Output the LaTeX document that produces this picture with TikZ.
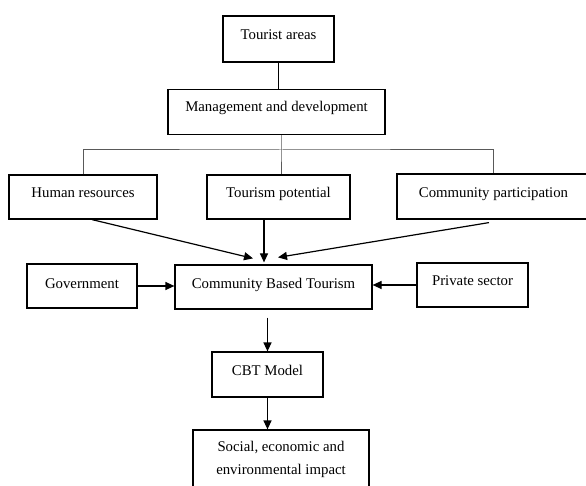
\documentclass[tikz,border=0pt]{standalone}
\usepackage{fontspec}
\setmainfont{Liberation Serif}
\usetikzlibrary{arrows.meta}

\begin{document}
\begin{tikzpicture}[x=1pt, y=-1pt,
    box/.style={draw, line width=1.2pt, inner sep=0pt, text height=10.4pt,
        font=\fontsize{14.8}{23}\selectfont},
    branch/.style={draw=black!65, line width=1pt},
    flow/.style={->, line width=1.2pt},
    >={Triangle[length=9pt, width=8pt]}]
        % Fix the frame of the page
        \path[use as bounding box, clip] (0,0) rectangle (586,486);

        % Draw the upper boxes
        \node[box, minimum width=111, minimum height=46, text depth=10pt] (tour) at (278.5,39) {Tourist areas};
        \node[box, minimum width=217, minimum height=45, text depth=11pt] (mgmt) at (276.5,112) {Management and development};
        \node[box, minimum width=148, minimum height=44, text depth=10pt] (human) at (83,197) {Human resources};
        \node[box, minimum width=143, minimum height=44, text depth=10pt] (potential) at (278.5,197) {Tourism potential};
        \node[box, minimum width=193, minimum height=45, text depth=9pt] (partic) at (493.5,196.5) {Community participation};

        % Draw the middle row
        \node[box, minimum width=110, minimum height=44, text depth=6pt] (gov) at (82,286) {Government};
        \node[box, minimum width=197, minimum height=44, text depth=8pt] (cbt) at (273.5,287) {Community Based Tourism};
        \node[box, minimum width=111, minimum height=44, text depth=10pt] (priv) at (472.5,285) {Private sector};

        % Draw the lower boxes
        \node[box, minimum width=111, minimum height=45, text depth=9pt] (model) at (267.5,374.5) {CBT Model};
        \node[box, minimum width=176, minimum height=59, text height=, text depth=, align=center] (impact) at (281,459.5) {Social, economic and\\environmental impact};

        % Draw the tree lines
        \coordinate (bus) at (281,150);
        \draw[line width=1pt] (tour.south) -- (tour.south |- mgmt.north);
        \draw[branch] (mgmt.south -| bus) -- (bus) -- (bus |- potential.north);
        \draw[branch] (human.north) |- (bus) -| (partic.north);

        % Draw the arrows into CBT
        \draw[flow] ([xshift=9pt]human.south) -- ([xshift=-20.5pt, yshift=6pt]cbt.north);
        \draw[flow, shorten >=2pt] ([xshift=-14.5pt]potential.south) -- ([xshift=-14.5pt]potential.south |- cbt.north);
        \draw[flow] ([xshift=-4.5pt, yshift=-3pt]partic.south) -- ([xshift=4.5pt, yshift=7pt]cbt.north);
        \draw[flow] (gov.east) -- (gov.east -| cbt.west);
        \draw[flow] (priv.west) -- (priv.west -| cbt.east);

        % Draw the arrows down
        \draw[flow] ([yshift=-8pt]cbt.south -| model.north) -- (model.north);
        \draw[flow] (model.south) -- (model.south |- impact.north);
    \end{tikzpicture}
\end{document}
